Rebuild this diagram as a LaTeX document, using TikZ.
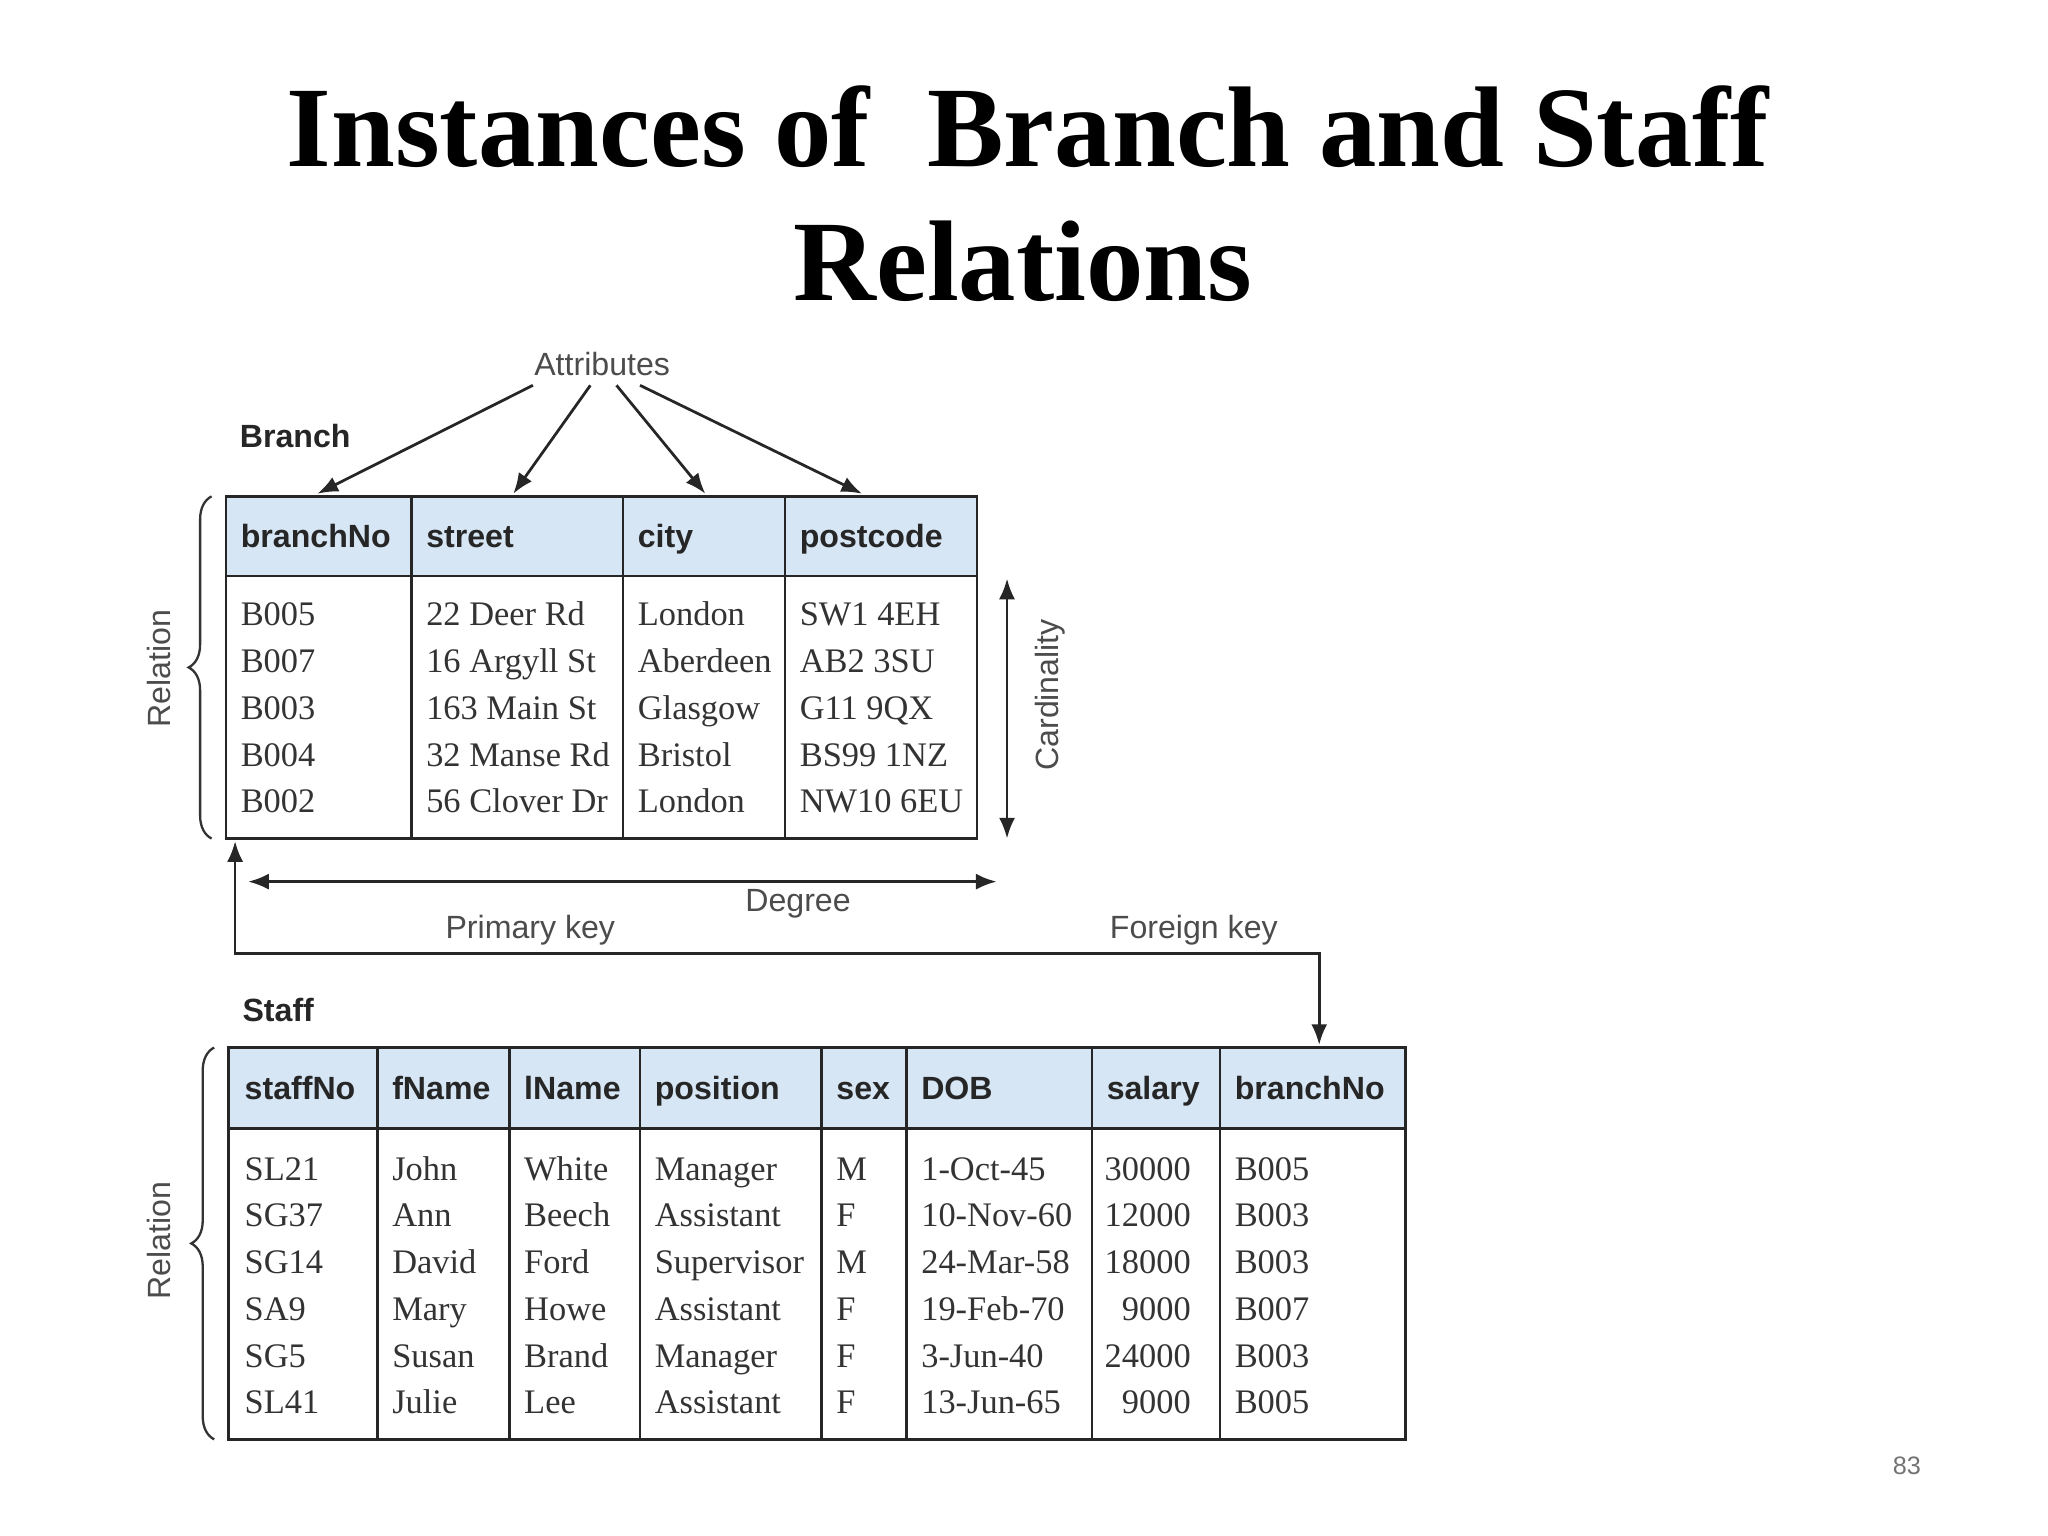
\documentclass[tikz,border=0pt]{standalone}
\usepackage{fontspec}
\setmainfont{Liberation Serif}
\newfontfamily\hsans{Liberation Sans}
\usetikzlibrary{decorations.pathreplacing,arrows.meta}
\definecolor{hblue}{RGB}{214,230,245}
\begin{document}
\begin{tikzpicture}[x=0.02cm,y=-0.02cm,
 hd/.style={font=\hsans\bfseries\fontsize{14}{16}\selectfont,anchor=base west,text=black!85,inner sep=0pt},
 bd/.style={font=\fontsize{15}{17}\selectfont,anchor=base west,text=black!80,inner sep=0pt},
 lab/.style={font=\hsans\fontsize{14}{16}\selectfont,text=black!70},
 tbl/.style={draw=black!85,line width=1.2pt},
 hfill/.style={fill=hblue},
 arr/.style={-{Latex[length=9pt,width=7pt]},line width=1.2pt,draw=black!85},
 br/.style={decorate,decoration={brace,amplitude=10pt},line width=1pt,draw=black!80}]
\useasboundingbox (0,0) rectangle (1568,1176);
\node (t1) at (787,97) {\fontsize{50}{56}\selectfont\bfseries Instances of\ \ Branch and Staff};
\node (t2) at (783,200) {\fontsize{50}{56}\selectfont\bfseries Relations};
% Branch table
\fill[hfill] (173,380) rectangle (748,441);
\draw[tbl] (173,380) rectangle (748,642);
\draw[tbl] (173,441) -- (748,441);
\foreach \x in {315,477,601} \draw[tbl] (\x,380) -- (\x,642);
\node[hd] (hb1) at (184,419) {branchNo};
\node[hd] (hb2) at (326,419) {street};
\node[hd] (hb3) at (488,419) {city};
\node[hd] (hb4) at (612,419) {postcode};
\foreach \y/\a/\b/\c/\d in {479/B005/22 Deer Rd/London/SW1 4EH,515/B007/16 Argyll St/Aberdeen/AB2 3SU,551/B003/163 Main St/Glasgow/G11 9QX,587/B004/32 Manse Rd/Bristol/BS99 1NZ,622/B002/56 Clover Dr/London/NW10 6EU}{
 \node[bd] at (184,\y) {\a}; \node[bd] at (326,\y) {\b}; \node[bd] at (488,\y) {\c}; \node[bd] at (612,\y) {\d};}
\node[lab] (attr) at (461,279) {Attributes};
\coordinate (a1) at (243,378); \coordinate (a2) at (393,378); \coordinate (a3) at (540,378); \coordinate (a4) at (660,378);
\draw[arr] (408,295) -- (a1);
\draw[arr] (452,295) -- (a2);
\draw[arr] (472,295) -- (a3);
\draw[arr] (490,295) -- (a4);
\node[font=\hsans\bfseries\fontsize{14}{16}\selectfont,text=black!85] (bl) at (226,334) {Branch};
\draw[br] (162,642) -- (162,380);
\node[lab,rotate=90] (rel1) at (122,512) {Relation};
\coordinate (c1) at (771,443); \coordinate (c2) at (771,642);
\draw[arr,{Latex[length=9pt,width=7pt]}-{Latex[length=9pt,width=7pt]}] (c1) -- (c2);
\node[lab,rotate=90] (card) at (804,532) {Cardinality};
\coordinate (d1) at (190,675); \coordinate (d2) at (763,675);
\draw[arr,{Latex[length=9pt,width=7pt]}-{Latex[length=9pt,width=7pt]}] (d1) -- (d2);
\node[lab] (deg) at (611,692) {Degree};
\coordinate (pk) at (180,644); \coordinate (fk) at (1010,800);
\draw[arr,{Latex[length=9pt,width=7pt]}-{Latex[length=9pt,width=7pt]}] (pk) -- (180,730) -- (1010,730) -- (fk);
\node[lab] (pkl) at (406,712) {Primary key};
\node[lab] (fkl) at (914,712) {Foreign key};
% Staff table
\node[font=\hsans\bfseries\fontsize{14}{16}\selectfont,text=black!85] (sl) at (213,773) {Staff};
\fill[hfill] (175,802) rectangle (1076,864);
\draw[tbl] (175,802) rectangle (1076,1102);
\draw[tbl] (175,864) -- (1076,864);
\foreach \x in {289,390,490,629,694,836,934} \draw[tbl] (\x,802) -- (\x,1102);
\foreach \x/\t in {187/staffNo,300/fName,401/lName,501/position,640/sex,705/DOB,847/salary,945/branchNo}
 \node[hd] at (\x,842) {\t};
\foreach \y/\a/\b/\c/\d/\e/\f/\g/\h in {904/SL21/John/White/Manager/M/1-Oct-45/30000/B005,939/SG37/Ann/Beech/Assistant/F/10-Nov-60/12000/B003,975/SG14/David/Ford/Supervisor/M/24-Mar-58/18000/B003,1011/SA9/Mary/Howe/Assistant/F/19-Feb-70/9000/B007,1047/SG5/Susan/Brand/Manager/F/3-Jun-40/24000/B003,1082/SL41/Julie/Lee/Assistant/F/13-Jun-65/9000/B005}{
 \node[bd] at (187,\y) {\a}; \node[bd] at (300,\y) {\b}; \node[bd] at (401,\y) {\c}; \node[bd] at (501,\y) {\d};
 \node[bd] at (640,\y) {\e}; \node[bd] at (705,\y) {\f}; \node[bd,anchor=base east] at (912,\y) {\g}; \node[bd] at (945,\y) {\h};}
\draw[br] (164,1102) -- (164,802);
\node[lab,rotate=90] (rel2) at (122,950) {Relation};
\node[font=\hsans\fontsize{11}{13}\selectfont,text=black!55] (pg) at (1460,1122) {83};
\end{tikzpicture}
\end{document}
